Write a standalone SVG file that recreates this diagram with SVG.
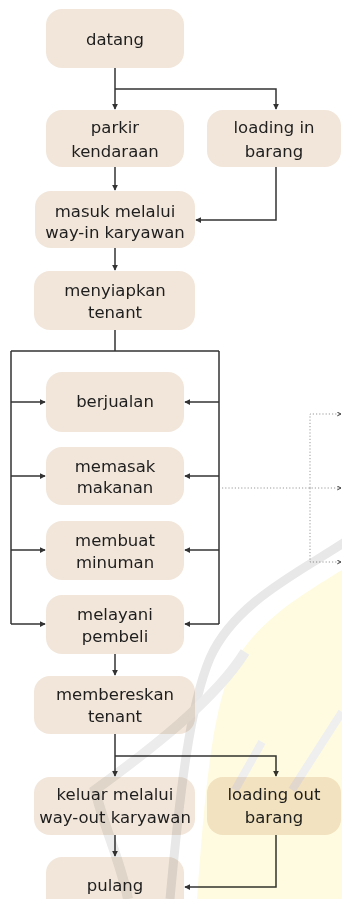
<svg xmlns="http://www.w3.org/2000/svg" width="342" height="899" viewBox="0 0 342 899">
<style>
.box{fill:#f2e6da}
.t{font-family:"DejaVu Sans","Liberation Sans",sans-serif;font-size:16.5px;fill:#1e1e1e;text-anchor:middle}
.c{fill:none;stroke:#333;stroke-width:1.5}
.d{fill:none;stroke:#999;stroke-width:1;stroke-dasharray:1.2 2}
.wm{mix-blend-mode:multiply}
</style>
<defs>
<marker id="a" viewBox="0 0 8 8" refX="7" refY="4" markerWidth="6" markerHeight="6" orient="auto" markerUnits="userSpaceOnUse"><path d="M0,0 L8,4 L0,8 Z" fill="#333"/></marker>
<marker id="o" viewBox="0 0 8 8" refX="7" refY="4" markerWidth="5" markerHeight="5" orient="auto" markerUnits="userSpaceOnUse"><path d="M1,1 L7,4 L1,7" fill="none" stroke="#333" stroke-width="1.5"/></marker>
</defs>
<rect width="342" height="899" fill="#fff"/>
<g id="connectors">
<path class="c" d="M115,68 V109" marker-end="url(#a)"/>
<path class="c" d="M115,89 H276 V109" marker-end="url(#a)"/>
<path class="c" d="M115,167 V190" marker-end="url(#a)"/>
<path class="c" d="M276,167 V220 H196" marker-end="url(#a)"/>
<path class="c" d="M115,248 V270" marker-end="url(#a)"/>
<path class="c" d="M115,330 V351 M11,351 H219 M11,351 V624 M219,351 V624"/>
<path class="c" d="M11,402 H45" marker-end="url(#a)"/>
<path class="c" d="M11,476 H45" marker-end="url(#a)"/>
<path class="c" d="M11,550 H45" marker-end="url(#a)"/>
<path class="c" d="M11,624 H45" marker-end="url(#a)"/>
<path class="c" d="M219,402 H185" marker-end="url(#a)"/>
<path class="c" d="M219,476 H185" marker-end="url(#a)"/>
<path class="c" d="M219,550 H185" marker-end="url(#a)"/>
<path class="c" d="M219,624 H185" marker-end="url(#a)"/>
<path class="c" d="M115,654 V675" marker-end="url(#a)"/>
<path class="c" d="M115,734 V776" marker-end="url(#a)"/>
<path class="c" d="M115,756 H276 V776" marker-end="url(#a)"/>
<path class="c" d="M115,835 V856" marker-end="url(#a)"/>
<path class="c" d="M276,835 V887 H185" marker-end="url(#a)"/>
<path class="d" d="M222,488 H341" marker-end="url(#o)"/>
<path class="d" d="M310,488 V414 H341" marker-end="url(#o)"/>
<path class="d" d="M310,488 V562 H341" marker-end="url(#o)"/>
</g>
<g id="n-datang"><rect class="box" x="46" y="9" width="138" height="59" rx="16"/><text class="t" x="115" y="45">datang</text></g>
<g id="n-parkir"><rect class="box" x="46" y="110" width="138" height="57" rx="16"/><text class="t" x="115" y="133">parkir</text><text class="t" x="115" y="157">kendaraan</text></g>
<g id="n-loadingin"><rect class="box" x="207" y="110" width="134" height="57" rx="16"/><text class="t" x="274" y="133">loading in</text><text class="t" x="274" y="157">barang</text></g>
<g id="n-masuk"><rect class="box" x="35" y="191" width="160" height="57" rx="16"/><text class="t" x="115" y="217">masuk melalui</text><text class="t" x="115" y="238">way-in karyawan</text></g>
<g id="n-menyiapkan"><rect class="box" x="34" y="271" width="161" height="59" rx="16"/><text class="t" x="115" y="296">menyiapkan</text><text class="t" x="115" y="318">tenant</text></g>
<g id="n-berjualan"><rect class="box" x="46" y="372" width="138" height="60" rx="16"/><text class="t" x="115" y="407">berjualan</text></g>
<g id="n-memasak"><rect class="box" x="46" y="447" width="138" height="58" rx="16"/><text class="t" x="115" y="472">memasak</text><text class="t" x="115" y="493">makanan</text></g>
<g id="n-membuat"><rect class="box" x="46" y="521" width="138" height="59" rx="16"/><text class="t" x="115" y="546">membuat</text><text class="t" x="115" y="568">minuman</text></g>
<g id="n-melayani"><rect class="box" x="46" y="595" width="138" height="59" rx="16"/><text class="t" x="115" y="620">melayani</text><text class="t" x="115" y="642">pembeli</text></g>
<g id="n-membereskan"><rect class="box" x="34" y="676" width="161" height="58" rx="16"/><text class="t" x="115" y="700">membereskan</text><text class="t" x="115" y="722">tenant</text></g>
<g id="n-keluar"><rect class="box" x="34" y="777" width="161" height="58" rx="16"/><text class="t" x="115" y="800">keluar melalui</text><text class="t" x="115" y="823">way-out karyawan</text></g>
<g id="n-loadingout"><rect class="box" x="207" y="777" width="134" height="58" rx="16"/><text class="t" x="274" y="800">loading out</text><text class="t" x="274" y="823">barang</text></g>
<g id="n-pulang"><rect class="box" x="46" y="857" width="138" height="60" rx="16"/><text class="t" x="115" y="891">pulang</text></g>
<g id="watermark" class="wm">
<path d="M345,568 C310,590 255,620 232,668 C212,712 205,790 197,899 L342,899 Z" fill="#fffbe0"/>
<path d="M345,542 C300,572 235,602 210,658 C190,705 180,790 170,899" fill="none" stroke="#e8e8e8" stroke-width="9"/>
<path d="M245,652 C215,700 150,750 95,790 C105,830 120,860 128,899" fill="none" stroke="#ececec" stroke-width="10"/>
<path d="M342,712 L292,790 M262,742 L235,790" fill="none" stroke="#efefef" stroke-width="8"/>
</g>
</svg>
